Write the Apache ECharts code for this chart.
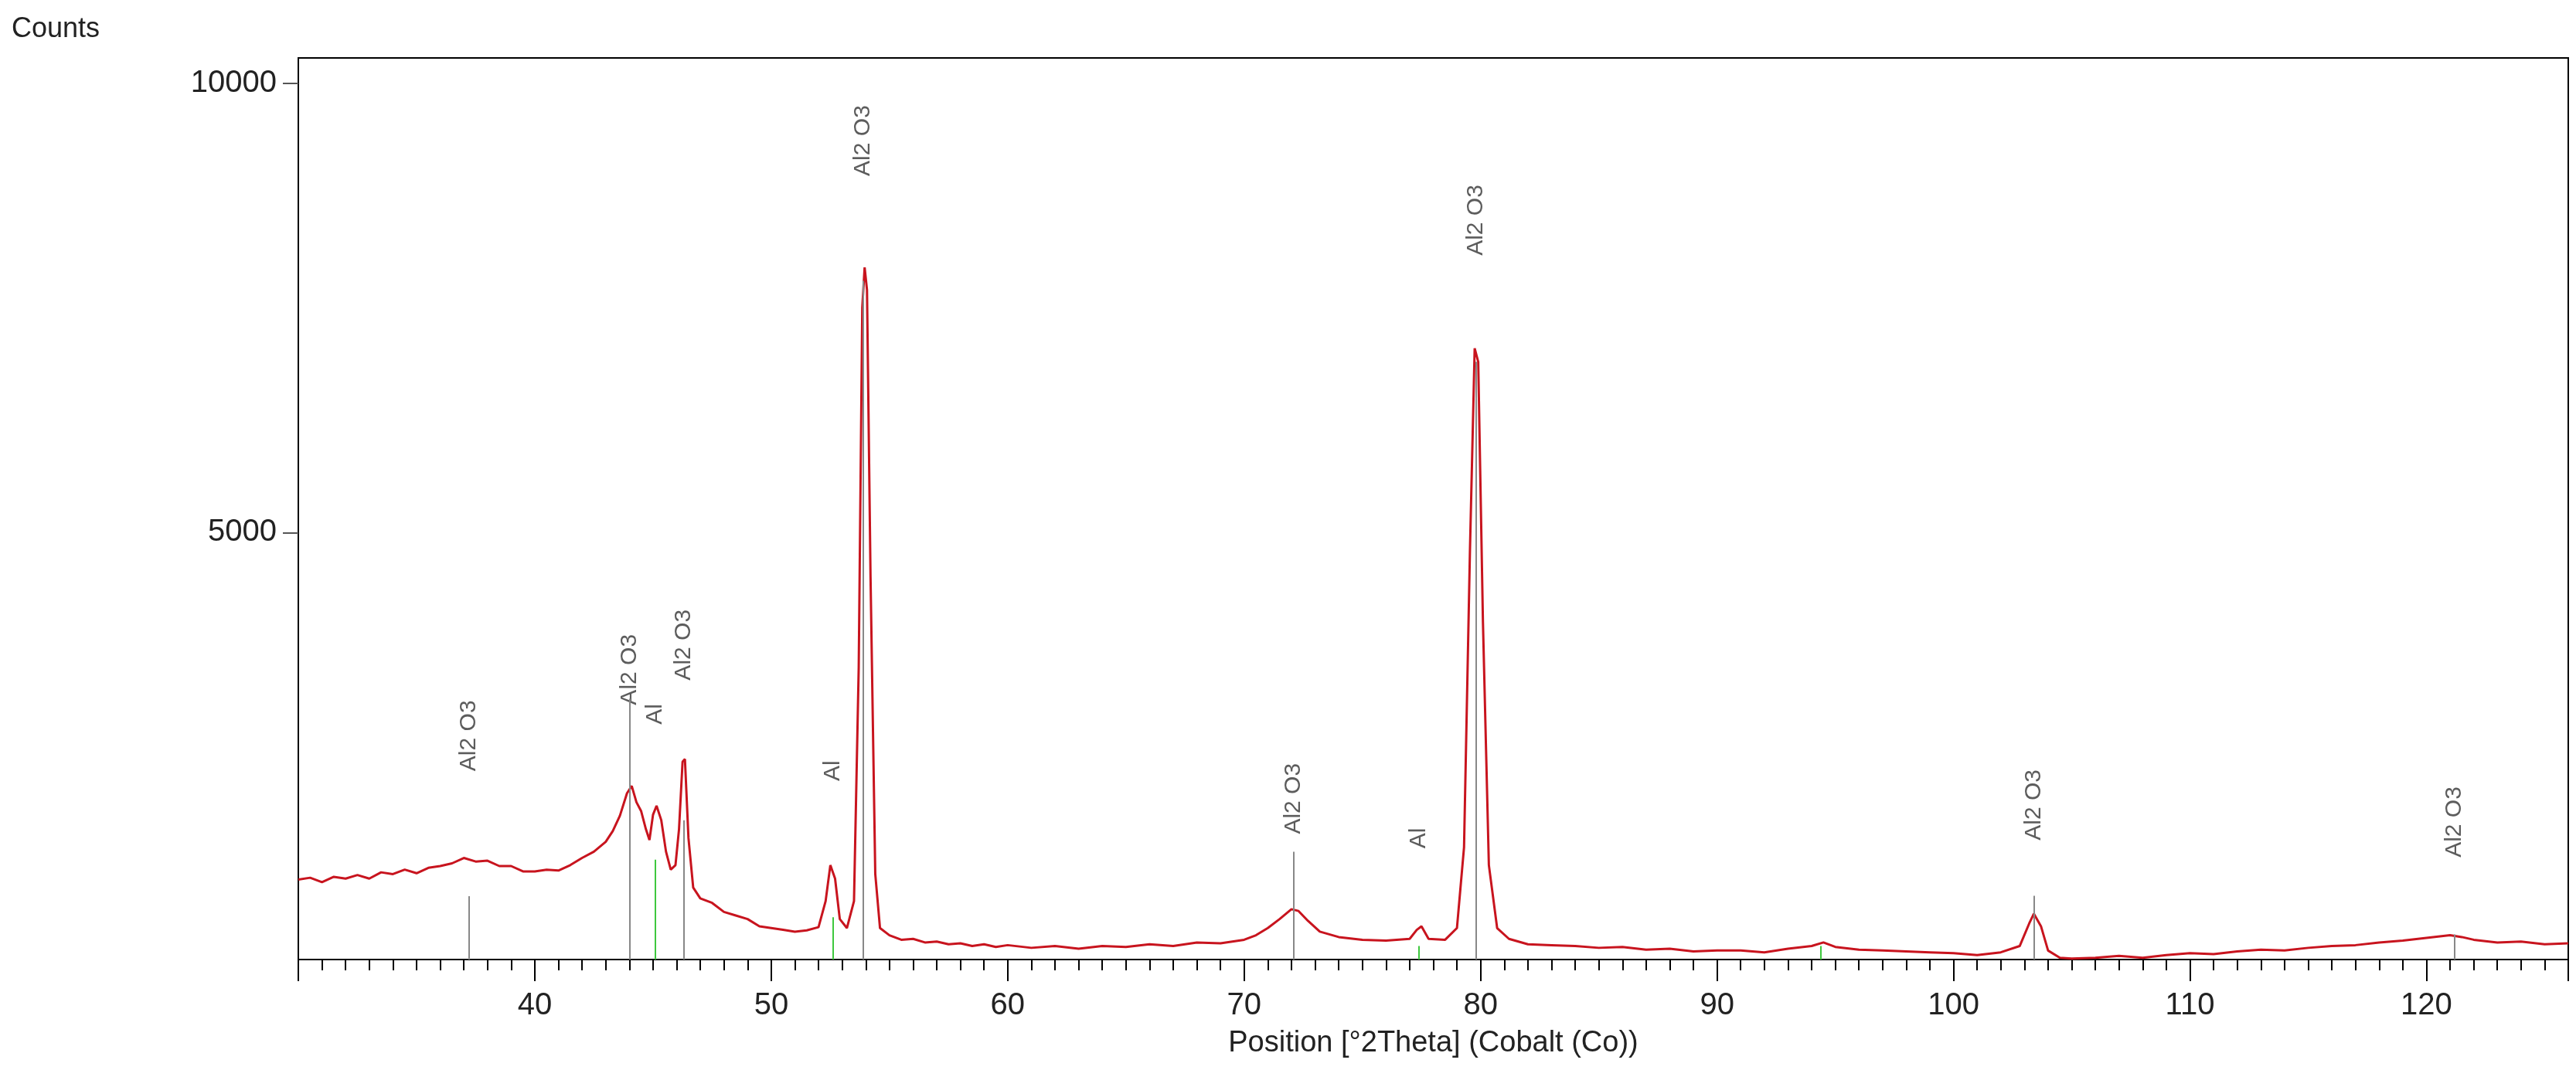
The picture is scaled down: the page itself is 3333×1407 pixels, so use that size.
<!DOCTYPE html>
<html>
<head>
<meta charset="utf-8">
<script src="https://cdn.jsdelivr.net/npm/echarts@6/dist/echarts.min.js"></script>
<style>html,body{margin:0;background:#fff}#xrd{width:3333px;height:1407px}</style>
</head>
<body>
<div id="xrd"></div>
<script>
// 衍射图 XRD
var twoTheta = [30,30.5,31,31.5,32,32.5,33,33.5,34,34.5,35,35.5,36,36.5,37,37.5,38,38.5,39,39.5,40,40.5,41,41.5,42,42.5,43,43.3,43.6,43.9,44.1,44.3,44.5,44.7,44.85,45.0,45.15,45.35,45.55,45.75,45.95,46.1,46.25,46.35,46.5,46.7,47,47.5,48,48.5,49,49.5,50,50.5,51,51.5,52,52.3,52.5,52.7,52.9,53.2,53.5,53.7,53.85,53.95,54.05,54.2,54.4,54.6,55,55.5,56,56.5,57,57.5,58,58.5,59,59.5,60,61,62,63,64,65,66,67,68,69,70,70.5,71,71.5,72,72.3,72.7,73.2,74,75,76,77,77.3,77.5,77.8,78.5,79,79.3,79.55,79.75,79.9,80.1,80.35,80.7,81.2,82,83,84,85,86,87,88,89,90,91,92,93,94,94.5,95,96,97,98,99,100,101,102,102.8,103.2,103.4,103.7,104,104.5,105,106,107,108,109,110,111,112,113,114,115,116,117,118,119,120,121,121.5,122,123,124,125,126];
var counts = [1140,1160,1110,1170,1150,1190,1150,1220,1200,1250,1210,1270,1290,1320,1380,1340,1350,1290,1290,1230,1230,1250,1240,1300,1380,1450,1560,1680,1850,2100,2180,2000,1900,1700,1580,1860,1960,1800,1450,1250,1300,1700,2450,2480,1600,1050,930,880,780,740,700,620,600,580,560,575,610,900,1300,1150,700,600,900,3500,7500,7950,7700,4500,1200,600,520,470,480,440,450,420,430,400,420,390,410,380,400,370,400,390,420,400,440,430,470,520,600,700,810,790,680,560,500,470,460,480,580,620,480,470,600,1500,4800,7050,6900,4000,1300,600,480,420,410,400,380,390,360,370,340,350,350,330,370,400,440,390,360,350,340,330,320,300,330,400,650,760,620,350,270,260,270,290,270,300,320,310,340,360,350,380,400,410,440,460,490,520,500,470,440,450,420,430];

// 参考峰
var refPos    = [37.2, 44.0, 46.3, 53.9, 72.1, 79.8, 103.4, 121.2];
var refHeight = [955, 3150, 1800, 7800, 1450, 6900, 960, 530];
var refLabelY = [2740, 3475, 3750, 9360, 2040, 8475, 1970, 1780];
var alPos     = [45.1, 52.6, 77.4, 94.4];
var alHeight  = [1360, 720, 400, 400];
var alLabelY  = [2980, 2350, 1600, null];
var yTicks    = [5000, 10000];

var yMin = 250, yMax = 10280;
var myChart = echarts.init(document.getElementById('xrd'));

function sticks(pos, h, color) {
    return pos.map(function (p, i) {
        return [{coord: [p, yMin], lineStyle: {color: color}}, {coord: [p, h[i]]}];
    });
}
function labels(pos, ys, text) {
    var out = [];
    pos.forEach(function (p, i) { if (ys[i] != null) out.push({value: [p, ys[i]], name: text}); });
    return out;
}

var option = {
    animation: false,
    backgroundColor: '#fff',
    textStyle: {fontFamily: 'Liberation Sans, Arial, sans-serif'},
    grid: {left: 386, right: 10, top: 75, bottom: 165, show: true, borderColor: '#000', borderWidth: 2},
    graphic: [{type: 'text', left: 15, top: 20, style: {text: 'Counts', font: '36px Liberation Sans', fill: '#222'}}],
    xAxis: {
        type: 'value', min: 30, max: 126, interval: 10,
        name: 'Position [°2Theta] (Cobalt (Co))', nameLocation: 'middle', nameGap: 90,
        nameTextStyle: {fontSize: 38, color: '#222'},
        axisLine: {lineStyle: {color: '#000', width: 2}},
        axisTick: {length: 28, lineStyle: {color: '#000', width: 2}},
        minorTick: {show: true, splitNumber: 10, length: 14, lineStyle: {color: '#000', width: 2}},
        splitLine: {show: false},
        axisLabel: {fontSize: 40, color: '#222', margin: 40, showMinLabel: false, showMaxLabel: false}
    },
    yAxis: {
        type: 'value', min: yMin, max: yMax,
        axisLine: {show: true, lineStyle: {color: '#000', width: 2}},
        axisTick: {show: true, customValues: yTicks, length: 20, lineStyle: {color: '#555', width: 2}},
        axisLabel: {customValues: yTicks, fontSize: 40, color: '#222', margin: 28, formatter: function (v) { return String(v); }},
        splitLine: {show: false}
    },
    series: [
        {
            type: 'line', data: twoTheta.map(function (x, i) { return [x, counts[i]]; }),
            showSymbol: false, lineStyle: {color: '#c8141e', width: 3}, z: 3,
            markLine: {
                silent: true, symbol: 'none', label: {show: false},
                lineStyle: {type: 'solid', width: 2},
                data: sticks(refPos, refHeight, '#888').concat(sticks(alPos, alHeight, '#3ec83e'))
            }
        },
        {
            type: 'scatter', symbolSize: 0, silent: true,
            data: labels(refPos, refLabelY, 'Al2 O3').concat(labels(alPos, alLabelY, 'Al')),
            label: {show: true, formatter: '{b}', rotate: 90, position: 'inside', fontSize: 30, color: '#333'}
        }
    ]
};
myChart.setOption(option);
</script>
</body>
</html>
